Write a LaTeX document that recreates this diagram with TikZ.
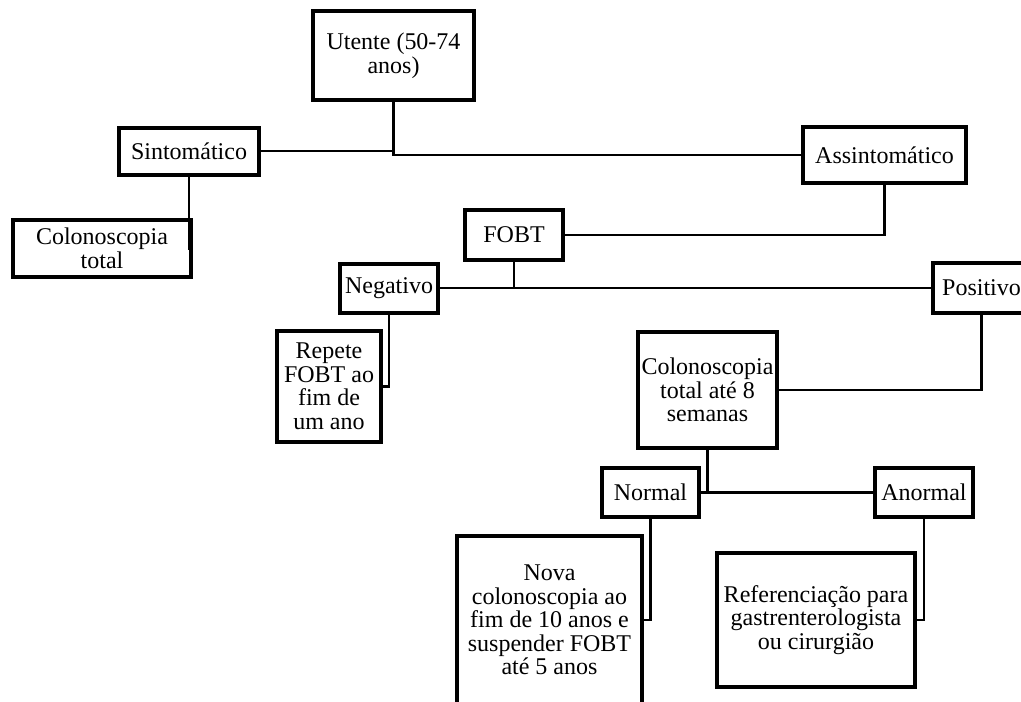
\documentclass[tikz,border=0pt]{standalone}
\usepackage{fontspec}
\setmainfont{Liberation Serif}
\begin{document}
\begin{tikzpicture}[x=1pt,y=-1pt,
  box/.style={draw=black, line width=4pt, fill=white, inner sep=0pt, align=center,
    font=\fontsize{24}{23.5}\selectfont},
  link/.style={draw=black, line width=2.6pt}]
\useasboundingbox (0,0) rectangle (1021,702);
\clip (0,0) rectangle (1021,702);
% nodes
\node[box, minimum width=161pt, minimum height=89pt] (ut) at (393.5,55.5) {Utente (50-74\\anos)};
\node[box, minimum width=140pt, minimum height=47pt] (sint) at (189,151) {Sintomático};
\node[box, minimum width=178pt, minimum height=57pt] (col) at (102,248.5) {Colonoscopia\\total};
\node[box, minimum width=163pt, minimum height=56pt] (assint) at (884.5,155) {Assintomático};
\node[box, minimum width=98pt, minimum height=50pt] (fobt) at (514,235) {FOBT};
\node[box, minimum width=98pt, minimum height=49pt] (neg) at (389,288) {Negativo};
\node[box, minimum width=97pt, minimum height=50pt] (pos) at (981.5,288) {Positivo};
\node[box, minimum width=104pt, minimum height=111pt] (rep) at (329,386.5) {Repete\\FOBT ao\\fim de\\um ano};
\node[box, minimum width=139pt, minimum height=116pt] (col8) at (707.5,390) {Colonoscopia\\total até 8\\semanas};
\node[box, minimum width=97pt, minimum height=49pt] (norm) at (650.5,492.5) {Normal};
\node[box, minimum width=98pt, minimum height=49pt] (anorm) at (924,492.5) {Anormal};
\node[box, minimum width=185pt, minimum height=168pt] (nova) at (549.5,620) {Nova\\colonoscopia ao\\fim de 10 anos e\\suspender FOBT\\até 5 anos};
\node[box, minimum width=198pt, minimum height=134pt] (ref) at (816,620) {Referenciação para\\gastrenterologista\\ou cirurgião};
% connectors
\draw[link] (ut.south) |- (sint.east);
\draw[link] (ut.south) |- (assint.west);
\draw[link] (sint.south) |- (col.east);
\draw[link] (assint.south) |- (fobt.east);
\draw[link] (neg.east) -- (pos.west);
\draw[link] (fobt.south) -- (fobt.south |- neg.east);
\draw[link] (neg.south) |- (rep.east);
\draw[link] (pos.south) |- (col8.east);
\draw[link] (norm.east) -- (anorm.west);
\draw[link] (col8.south) -- (col8.south |- norm.east);
\draw[link] (norm.south) |- (nova.east);
\draw[link] (anorm.south) |- (ref.east);
\end{tikzpicture}
\end{document}
